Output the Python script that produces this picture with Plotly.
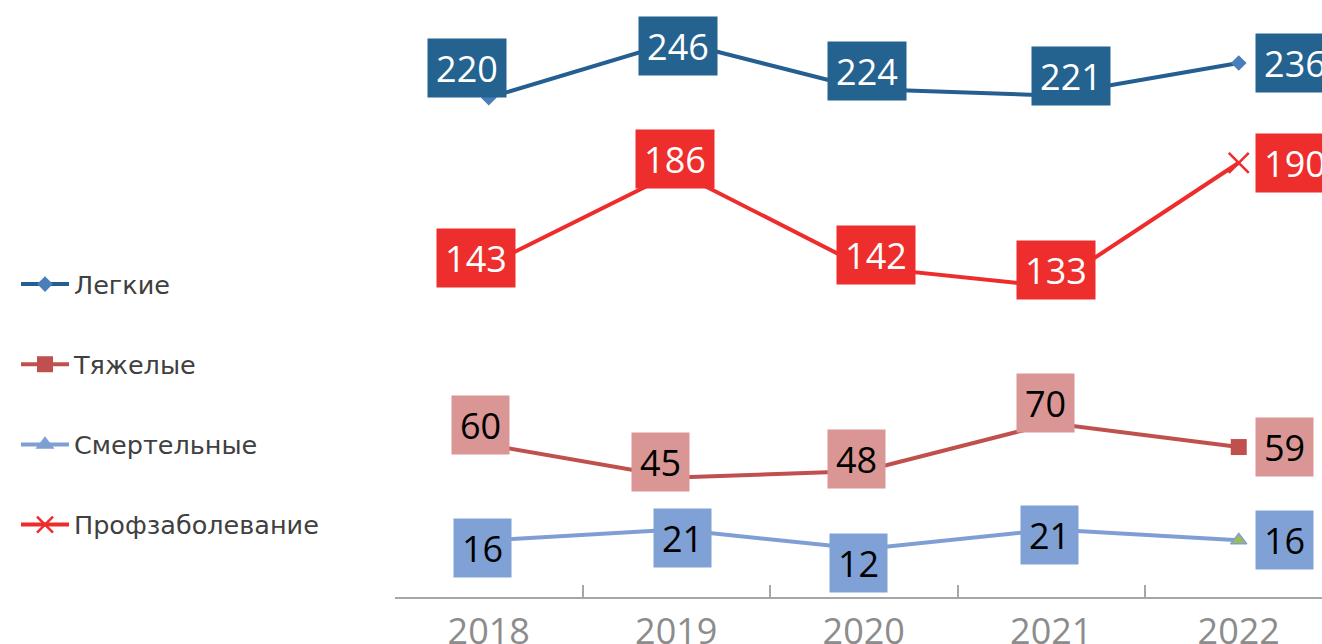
import plotly.graph_objects as go

years = ["2018", "2019", "2020", "2021", "2022"]

light = [220, 246, 224, 221, 236]
heavy = [60, 45, 48, 70, 59]
fatal = [16, 21, 12, 21, 16]
occupational = [143, 186, 142, 133, 190]

names = ["Легкие", "Тяжелые", "Смертельные", "Профзаболевание"]

# label offsets (px) roughly as the labels were dragged in the original
shift_light = [(-22, 30), (2, -5), (3, 18), (20, 19), (56, 0)]
shift_heavy = [(-8, 20), (-16, 15), (-7, 12), (-6, 20), (46, 0)]
shift_fatal = [(-6, -8), (6, -8), (-5, -14), (-2, -5), (46, 0)]
shift_occ = [(-13, 7), (-1, 12), (12, 12), (5, 16), (56, 0)]

label_font = "Open Sans"

fig = go.Figure()

fig.add_trace(go.Scatter(
    x=years, y=light, name=names[0], mode="lines+markers",
    line=dict(color="#255E91", width=4),
    marker=dict(symbol="diamond", size=12, color="#4A7EBB"),
    legendgroup="a"))
fig.add_trace(go.Scatter(
    x=years, y=heavy, name=names[1], mode="lines+markers",
    line=dict(color="#C0504D", width=4),
    marker=dict(symbol="square", size=16, color="#C0504D"),
    legendgroup="b"))
fig.add_trace(go.Scatter(
    x=years, y=fatal, name=names[2], mode="lines+markers",
    line=dict(color="#7F9FD4", width=4),
    marker=dict(symbol="triangle-up", size=14,
                color=["#7F9FD4"] * 4 + ["#9BBB59"],
                line=dict(color="#7F9FD4", width=1.5)),
    legendgroup="c"))
fig.add_trace(go.Scatter(
    x=years, y=occupational, name=names[3], mode="lines+markers",
    line=dict(color="#EE2C2C", width=4),
    marker=dict(symbol="x-thin", size=20, color="#EE2C2C",
                line=dict(color="#EE2C2C", width=2.5)),
    legendgroup="d"))


def add_labels(values, shifts, bg, fg):
    for i, v in enumerate(values):
        w = 78 if v >= 100 else 57
        fig.add_annotation(
            x=i, y=v, text=str(v), showarrow=False,
            xshift=shifts[i][0], yshift=shifts[i][1],
            width=w, height=58, borderpad=0, bgcolor=bg,
            font=dict(family=label_font, size=36, color=fg))


add_labels(light, shift_light, "#24628F", "white")
add_labels(occupational, shift_occ, "#EE2D2D", "white")
add_labels(heavy, shift_heavy, "#D99694", "black")
add_labels(fatal, shift_fatal, "#7FA1D5", "black")

fig.update_layout(
    width=1322, height=644,
    margin=dict(l=395, r=0, t=0, b=47, autoexpand=False),
    paper_bgcolor="white", plot_bgcolor="white",
    showlegend=True,
    legend=dict(
        xref="container", yref="container",
        x=16 / 1322, y=1 - 261 / 644, xanchor="left", yanchor="top",
        traceorder="grouped", tracegroupgap=44,
        font=dict(family="DejaVu Sans", size=25.5, color="#404040"),
        itemwidth=48),
    xaxis=dict(
        type="category", range=[-0.5, 4.444], automargin=False,
        showline=True, linecolor="#A6A6A6", linewidth=2,
        ticks="inside", tickson="boundaries", ticklen=12,
        tickcolor="#A6A6A6", tickwidth=1.5,
        ticklabelstandoff=2,
        tickfont=dict(family=label_font, size=36, color="#8C8C8C"),
        showgrid=False, zeroline=False),
    yaxis=dict(range=[-10.1, 265], visible=False, showgrid=False,
               automargin=False),
)

# the page body has a default 8px margin; drop it so the figure sits at 0,0
fig.write_html("out.html", config={"displayModeBar": False},
               post_script="document.body.style.margin='0';")
